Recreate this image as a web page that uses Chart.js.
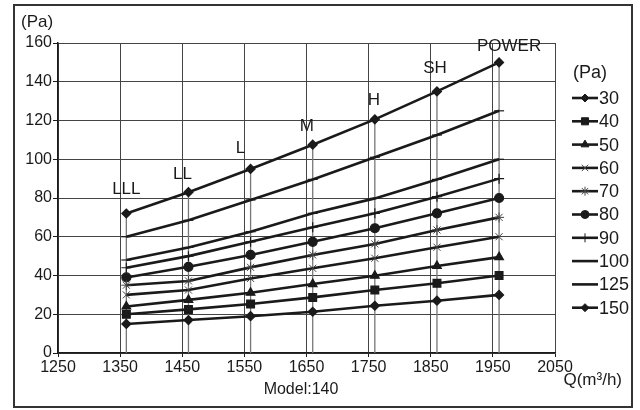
<!DOCTYPE html>
<html>
<head>
<meta charset="utf-8">
<script src="https://cdn.jsdelivr.net/npm/chart.js@4/dist/chart.umd.min.js"></script>
<style>
  html, body { margin: 0; padding: 0; background: #fff; }
  #wrap { position: relative; width: 640px; height: 410px; }
</style>
</head>
<body>
<div id="wrap"><canvas id="chart" width="640" height="410"></canvas></div>
<script>
// Data (Q in m3/h, pressure in Pa)
const flowQ = [1360, 1460, 1560, 1660, 1760, 1860, 1960];
const modelNames = ['LLL', 'LL', 'L', 'M', 'H', 'SH', 'POWER'];
const seriesNames = ['30', '40', '50', '60', '70', '80', '90', '100', '125', '150'];

const pa30  = [15, 17, 19, 21.3, 24.4, 27, 30];
const pa40  = [20, 22.5, 25.3, 28.7, 32.5, 36, 40];
const pa50  = [24, 27.4, 31.1, 35.6, 39.9, 44.9, 49.5];
const pa60  = [30, 32.5, 38.5, 43.7, 48.9, 54.6, 60];
const pa70  = [35, 37.2, 44.2, 50.6, 56.3, 63.5, 70];
const pa80  = [39, 44.5, 50.6, 57.4, 64.4, 72.1, 80];
const pa90  = [44, 50, 57.4, 64.9, 72.1, 80.7, 90];
const pa100 = [48, 54.5, 62.6, 72.1, 79.8, 89.6, 100];
const pa125 = [60, 68.5, 79, 89.6, 101, 112.5, 125];
const pa150 = [72, 83, 95, 107.5, 120.6, 135, 150];

const xTicks = [1250, 1350, 1450, 1550, 1650, 1750, 1850, 1950, 2050];
const yTicks = [0, 20, 40, 60, 80, 100, 120, 140, 160];

const seriesValues = [pa30, pa40, pa50, pa60, pa70, pa80, pa90, pa100, pa125, pa150];
const markers = ['rectRot', 'rect', 'triangle', 'crossRot', 'star', 'circle', 'cross', 'line', 'line', 'rectRot'];
const markerSize = [4.5, 5.5, 5, 5, 5, 4.5, 5, 5, 5, 4.5];

const FONT = '"Liberation Sans", Arial, sans-serif';
const INK = '#1a1a1a';

// gray vertical lines through each model's points
const verticals = flowQ.map((q, i) => ({
  data: [{ x: q, y: 0 }, { x: q, y: pa150[i] }],
  borderColor: '#777',
  borderWidth: 1.3,
  pointRadius: 0,
  order: 20
}));

const curves = seriesValues.map((vals, s) => ({
  label: seriesNames[s],
  data: vals.map((v, i) => ({ x: flowQ[i], y: v })),
  borderColor: INK,
  backgroundColor: INK,
  borderWidth: 2.6,
  pointStyle: markers[s],
  pointRadius: markerSize[s],
  pointBackgroundColor: INK,
  pointBorderColor: s === 3 || s === 4 ? '#444' : INK,
  pointBorderWidth: s === 3 || s === 4 ? 1 : 1.2,
  order: 1
}));

// label offsets relative to the top (150 Pa) point
const labelOffsets = [[0, -24], [-6, -18], [-10, -21], [-6, -18], [-1, -19], [-2, -23], [10, -16]];

const extrasPlugin = {
  id: 'extras',
  afterDraw(chart) {
    const ctx = chart.ctx;
    const xs = chart.scales.x, ys = chart.scales.y;
    ctx.save();
    ctx.fillStyle = INK;
    ctx.textBaseline = 'middle';

    // model labels
    ctx.font = '17px ' + FONT;
    ctx.textAlign = 'center';
    modelNames.forEach((name, i) => {
      const px = xs.getPixelForValue(flowQ[i]) + labelOffsets[i][0];
      const py = ys.getPixelForValue(pa150[i]) + labelOffsets[i][1];
      ctx.fillText(name, px, py);
    });

    // axis titles
    ctx.textAlign = 'left';
    ctx.fillText('(Pa)', 21, 22);
    ctx.font = '16px ' + FONT;
    ctx.textAlign = 'center';
    ctx.fillText('Model:140', 301, 390);
    ctx.font = '17px ' + FONT;
    ctx.textAlign = 'right';
    ctx.fillText('Q(m\u00B3/h)', 622, 380);

    // legend
    ctx.font = '18px ' + FONT;
    ctx.textAlign = 'left';
    ctx.fillText('(Pa)', 573, 73);
    const helpers = window.Chart && Chart.helpers;
    seriesNames.forEach((name, s) => {
      const ly = 98 + s * 23.3;
      ctx.strokeStyle = INK;
      ctx.lineWidth = 2.6;
      ctx.beginPath();
      ctx.moveTo(572, ly);
      ctx.lineTo(598, ly);
      ctx.stroke();
      if (helpers && helpers.drawPoint && markers[s] !== 'line') {
        ctx.fillStyle = INK;
        ctx.strokeStyle = s === 3 || s === 4 ? '#444' : INK;
        ctx.lineWidth = 1;
        helpers.drawPoint(ctx, {
          pointStyle: markers[s],
          radius: markerSize[s] - 0.5,
          rotation: 0,
          borderWidth: 1
        }, 585, ly);
      }
      ctx.fillStyle = INK;
      ctx.fillText(name, 599, ly + 1);
    });

    // outer frame
    ctx.strokeStyle = '#333';
    ctx.lineWidth = 2;
    ctx.strokeRect(14, 5, 618, 402);
    ctx.restore();
  }
};

new Chart(document.getElementById('chart'), {
  type: 'line',
  data: { datasets: verticals.concat(curves) },
  options: {
    responsive: false,
    animation: false,
    events: [],
    layout: { padding: { left: 0, top: 43, right: 85, bottom: 0 } },
    plugins: {
      legend: { display: false },
      tooltip: { enabled: false }
    },
    scales: {
      x: {
        type: 'linear',
        min: xTicks[0],
        max: xTicks[xTicks.length - 1],
        afterFit(scale) { scale.height = 57; },
        afterBuildTicks(scale) { scale.ticks = xTicks.map(v => ({ value: v })); },
        ticks: {
          color: INK, font: { family: FONT, size: 16 }, padding: 1, maxRotation: 0,
          callback: v => String(v)
        },
        grid: { color: '#444', lineWidth: 1, tickLength: 4, tickColor: INK },
        border: { color: INK, width: 1.5 }
      },
      y: {
        min: yTicks[0],
        max: yTicks[yTicks.length - 1],
        afterFit(scale) { scale.width = 58; },
        afterBuildTicks(scale) { scale.ticks = yTicks.map(v => ({ value: v })); },
        ticks: {
          color: INK, font: { family: FONT, size: 16 }, padding: 1,
          callback: v => String(v)
        },
        grid: { color: '#444', lineWidth: 1, tickLength: 5, tickColor: INK },
        border: { color: INK, width: 1.5 }
      }
    }
  },
  plugins: [extrasPlugin]
});
</script>
</body>
</html>
